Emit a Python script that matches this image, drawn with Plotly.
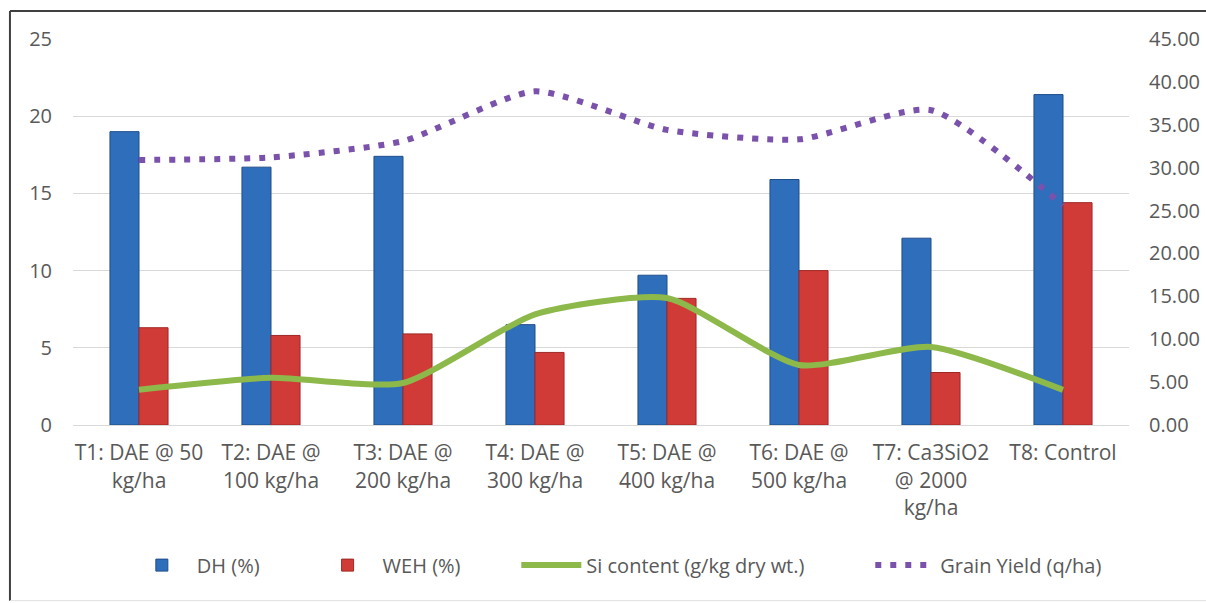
import plotly.graph_objects as go

categories = ["T1: DAE @ 50<br>kg/ha", "T2: DAE @<br>100 kg/ha", "T3: DAE @<br>200 kg/ha",
              "T4: DAE @<br>300 kg/ha", "T5: DAE @<br>400 kg/ha", "T6: DAE @<br>500 kg/ha",
              "T7: Ca3SiO2<br>@ 2000<br>kg/ha", "T8: Control"]
dh = [19.0, 16.7, 17.4, 6.5, 9.7, 15.9, 12.1, 21.4]
weh = [6.3, 5.8, 5.9, 4.7, 8.2, 10.0, 3.4, 14.4]
si_content = [4.1, 5.5, 4.9, 12.9, 14.8, 7.0, 9.1, 4.1]
grain_yield = [30.9, 31.2, 33.1, 38.9, 34.4, 33.3, 36.7, 25.6]

left_ticks = [0, 5, 10, 15, 20, 25]
right_ticks = [0, 5, 10, 15, 20, 25, 30, 35, 40, 45]

fig = go.Figure()
fig.add_trace(go.Bar(x=categories, y=dh, name="DH (%)", legend="legend",
                     marker=dict(color="#2F6EBA", line=dict(color="#1F4E8C", width=1))))
fig.add_trace(go.Bar(x=categories, y=weh, name="WEH (%)", legend="legend2",
                     marker=dict(color="#D13B37", line=dict(color="#9E2825", width=1))))
fig.add_trace(go.Scatter(x=categories, y=si_content, name="Si content (g/kg dry wt.)",
                         mode="lines", yaxis="y2", legend="legend3",
                         line=dict(color="#8DB84A", width=6, shape="spline", smoothing=0.6)))
fig.add_trace(go.Scatter(x=categories, y=grain_yield, name="Grain Yield (q/ha)",
                         mode="lines", yaxis="y2", legend="legend4",
                         line=dict(color="#7B52AB", width=6, dash="6px,9px", shape="spline", smoothing=0.6)))

tick_font = dict(family="Open Sans, sans-serif", size=20, color="#595959")
xtick_font = dict(family="Open Sans, sans-serif", size=21, color="#595959")
legend_font = dict(family="Open Sans, sans-serif", size=20, color="#595959")


def leg(x):
    return dict(orientation="h", x=x, xanchor="left", y=-0.363, yanchor="middle",
                font=legend_font, itemwidth=60, bgcolor="rgba(0,0,0,0)")


fig.update_layout(
    width=1206, height=603,
    margin=dict(l=73, r=77, t=39, b=178, autoexpand=False),
    paper_bgcolor="white", plot_bgcolor="white",
    barmode="group", bargap=0.56, bargroupgap=0,
    showlegend=True,
    legend=leg(0.051), legend2=leg(0.2269), legend3=leg(0.4198), legend4=leg(0.755),
    xaxis=dict(tickfont=xtick_font, showgrid=False, showline=True, linecolor="#D9D9D9",
               ticks="", tickangle=0, ticklabelstandoff=9, automargin=False),
    yaxis=dict(range=[0, 25], tickvals=left_ticks, tickfont=tick_font, showgrid=True,
               gridcolor="#D9D9D9", gridwidth=1, zeroline=False, ticks="", ticklabelstandoff=20,
               automargin=False),
    yaxis2=dict(range=[0, 45], tickvals=right_ticks, tickformat=".2f", tickfont=tick_font,
                overlaying="y", side="right", showgrid=False, zeroline=False, ticks="",
                ticklabelstandoff=19, automargin=False),
)

fig.add_shape(type="line", xref="paper", yref="paper", x0=-0.0597, x1=-0.0597, y0=-0.455, y1=1.0725,
              line=dict(color="#404040", width=2))
fig.add_shape(type="line", xref="paper", yref="paper", x0=-0.0597, x1=1.08, y0=1.0725, y1=1.0725,
              line=dict(color="#404040", width=2))
fig.add_shape(type="line", xref="paper", yref="paper", x0=-0.0597, x1=1.08, y0=-0.455, y1=-0.455,
              line=dict(color="#E0E0E0", width=1))

fig.write_html("out.html", config={"displayModeBar": False},
               post_script="document.body.style.margin='0';")
